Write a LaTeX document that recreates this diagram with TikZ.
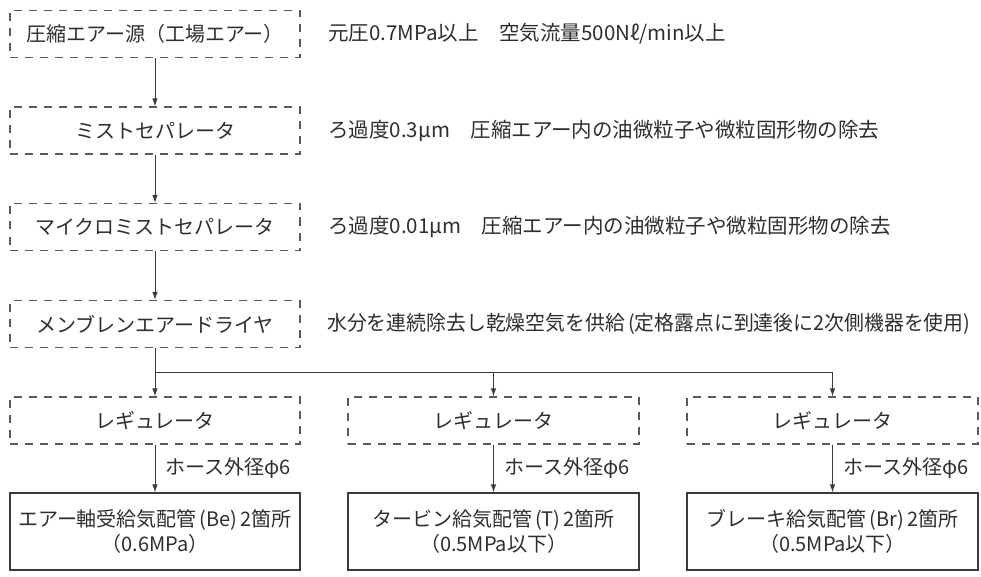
\documentclass[tikz,border=0pt]{standalone}
\usepackage{graphicx}
\usepackage{fontspec}
\setmainfont{Noto Sans CJK JP}
\usetikzlibrary{arrows.meta}
\definecolor{txt}{HTML}{2E2E2E}
\definecolor{ln}{HTML}{3A3A3A}
\definecolor{dl}{HTML}{5A5A5A}
\tikzset{
  dbox/.style={draw=dl, line width=1.1pt, dash pattern=on 8pt off 7pt, minimum height=47pt, inner sep=0pt, text=txt, font=\fontsize{20}{23}\selectfont},
  sbox/.style={draw=ln, line width=1.1pt, minimum height=77pt, inner sep=0pt, text=txt, align=center, font=\fontsize{20}{25}\selectfont},
  note/.style={anchor=west, inner sep=0pt, text=txt, font=\fontsize{20.5}{23}\selectfont},
  hose/.style={anchor=west, inner sep=0pt, text=txt, font=\fontsize{20}{23}\selectfont},
  conn/.style={draw=ln, line width=1pt},
  arr/.style={conn, -{Latex[length=8pt,width=5.5pt]}},
}
\newcommand{\lp}{\kern3pt(}
\newcommand{\rp}{)\kern3pt}
\begin{document}
\begin{tikzpicture}[x=1pt,y=-1pt]
\useasboundingbox (0,0) rectangle (981,577);
% main chain
\node[dbox, minimum width=290pt] (src) at (155,34) {圧縮エアー源（工場エアー）};
\node[dbox, minimum width=290pt] (ms) at (155,130.5) {ミストセパレータ};
\node[dbox, minimum width=290pt] (mms) at (155,227) {マイクロミストセパレータ};
\node[dbox, minimum width=290pt] (mad) at (155,324) {メンブレンエアードライヤ};
% notes
\node[note] (n1) at (328,34) {元圧0.7MPa以上　空気流量500Nℓ/min以上};
\node[note] (n2) at (328,130.5) {ろ過度0.3μm　圧縮エアー内の油微粒子や微粒固形物の除去};
\node[note] (n3) at (328,227) {ろ過度0.01μm　圧縮エアー内の油微粒子や微粒固形物の除去};
\node[note] (n4) at (327,324) {\resizebox{646pt}{\height}{水分を連続除去し乾燥空気を供給\lp 定格露点に到達後に2次側機器を使用\rp}};
% regulators
\node[dbox, minimum width=290pt] (r1) at (155,420.5) {レギュレータ};
\node[dbox, minimum width=291pt] (r2) at (493.5,420.5) {レギュレータ};
\node[dbox, minimum width=291pt] (r3) at (832.5,420.5) {レギュレータ};
% pipes
\node[sbox, minimum width=290pt] (p1) at (155,531.5) {エアー軸受給気配管\lp Be\rp 2箇所\\（0.6MPa）};
\node[sbox, minimum width=291pt] (p2) at (493.5,531.5) {タービン給気配管\lp T\rp 2箇所\\（0.5MPa以下）};
\node[sbox, minimum width=291pt] (p3) at (832.5,531.5) {ブレーキ給気配管\lp Br\rp 2箇所\\（0.5MPa以下）};
% connectors
\draw[arr] (src) -- (ms);
\draw[arr] (ms) -- (mms);
\draw[arr] (mms) -- (mad);
\draw[arr] (mad) -- (r1);
\coordinate (b1) at (155,372);
\coordinate (b2) at (493.5,372);
\coordinate (b3) at (832.5,372);
\draw[conn] (b1) -- (b3);
\draw[arr] (b2) -- (r2);
\draw[arr] (b3) -- (r3);
\draw[arr] (r1) -- node[hose, right=10pt, anchor=west] {ホース外径φ6} (p1);
\draw[arr] (r2) -- node[hose, right=10pt, anchor=west] {ホース外径φ6} (p2);
\draw[arr] (r3) -- node[hose, right=10pt, anchor=west] {ホース外径φ6} (p3);
\end{tikzpicture}
\end{document}
